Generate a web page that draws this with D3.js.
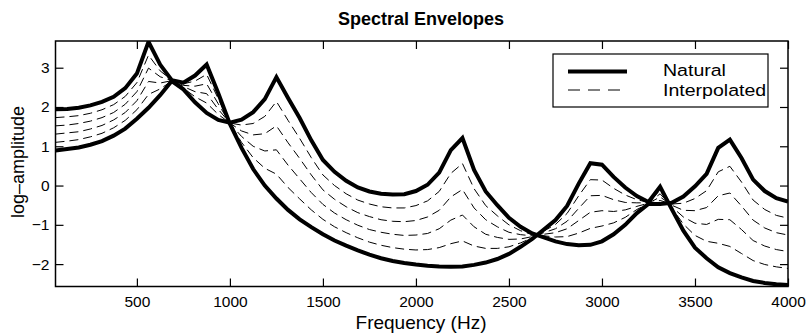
<!DOCTYPE html>
<html>
<head>
<meta charset="utf-8">
<script src="https://cdn.jsdelivr.net/npm/d3@7"></script>
<style>
  body { margin: 0; background: #fff; }
  text { font-family: "Liberation Sans", Arial, Helvetica, sans-serif; fill: #000; }
</style>
</head>
<body>
<div id="chart"></div>
<script>
// frequency grid (Hz)
const freqs = [
    62.5, 125, 187.5, 250, 312.5, 375, 437.5, 500, 562.5, 625, 687.5, 750, 812.5, 875, 937.5, 1000,
    1062.5, 1125, 1187.5, 1250, 1312.5, 1375, 1437.5, 1500, 1562.5, 1625, 1687.5, 1750, 1812.5, 1875, 1937.5, 2000,
    2062.5, 2125, 2187.5, 2250, 2312.5, 2375, 2437.5, 2500, 2562.5, 2625, 2687.5, 2750, 2812.5, 2875, 2937.5, 3000,
    3062.5, 3125, 3187.5, 3250, 3312.5, 3375, 3437.5, 3500, 3562.5, 3625, 3687.5, 3750, 3812.5, 3875, 3937.5, 4000
]

// natural envelopes
const naturalA = [
    1.94, 1.95, 1.98, 2.04, 2.13, 2.26, 2.48, 2.85, 3.66, 3.08, 2.68, 2.62, 2.80, 3.08, 2.35, 1.57,
    0.96, 0.42, 0.00, -0.33, -0.62, -0.86, -1.06, -1.24, -1.40, -1.53, -1.65, -1.76, -1.85, -1.92, -1.97, -2.01,
    -2.04, -2.06, -2.07, -2.06, -2.02, -1.96, -1.87, -1.74, -1.56, -1.36, -1.12, -0.88, -0.52, 0.05, 0.57, 0.53,
    0.22, -0.05, -0.27, -0.42, -0.03, -0.60, -1.15, -1.58, -1.85, -2.08, -2.23, -2.34, -2.43, -2.48, -2.51, -2.53
]
const naturalB = [
    0.89, 0.93, 0.97, 1.04, 1.13, 1.27, 1.45, 1.70, 1.98, 2.30, 2.66, 2.45, 2.12, 1.85, 1.67, 1.60,
    1.68, 1.87, 2.20, 2.76, 2.23, 1.72, 1.15, 0.65, 0.35, 0.12, -0.05, -0.15, -0.21, -0.23, -0.22, -0.14,
    0.02, 0.33, 0.90, 1.21, 0.40, -0.15, -0.50, -0.82, -1.05, -1.22, -1.32, -1.42, -1.49, -1.52, -1.51, -1.42,
    -1.24, -1.00, -0.70, -0.47, -0.47, -0.44, -0.28, -0.02, 0.30, 0.96, 1.17, 0.70, 0.15, -0.14, -0.32, -0.41
]

// interpolated envelopes (dashed)
const interp1 = [
    1.73, 1.75, 1.78, 1.84, 1.93, 2.06, 2.27, 2.62, 3.32, 2.92, 2.68, 2.59, 2.66, 2.83, 2.21, 1.58,
    1.10, 0.71, 0.44, 0.29, -0.05, -0.34, -0.62, -0.86, -1.05, -1.20, -1.33, -1.44, -1.52, -1.58, -1.62, -1.64,
    -1.63, -1.58, -1.48, -1.41, -1.54, -1.60, -1.60, -1.56, -1.46, -1.33, -1.16, -0.99, -0.71, -0.26, 0.15, 0.14,
    -0.07, -0.24, -0.36, -0.43, -0.12, -0.57, -0.98, -1.27, -1.42, -1.47, -1.55, -1.73, -1.91, -2.01, -2.07, -2.11
]
const interp2 = [
    1.52, 1.54, 1.58, 1.64, 1.73, 1.86, 2.07, 2.39, 2.99, 2.77, 2.67, 2.55, 2.53, 2.59, 2.08, 1.58,
    1.25, 1.00, 0.88, 0.91, 0.52, 0.17, -0.18, -0.48, -0.70, -0.87, -1.01, -1.12, -1.19, -1.24, -1.27, -1.26,
    -1.22, -1.10, -0.88, -0.75, -1.05, -1.24, -1.32, -1.37, -1.36, -1.30, -1.20, -1.10, -0.91, -0.58, -0.26, -0.25,
    -0.36, -0.43, -0.44, -0.44, -0.21, -0.54, -0.80, -0.96, -0.99, -0.86, -0.87, -1.12, -1.40, -1.54, -1.63, -1.68
]
const interp3 = [
    1.31, 1.34, 1.37, 1.44, 1.53, 1.67, 1.86, 2.16, 2.65, 2.61, 2.67, 2.52, 2.39, 2.34, 1.94, 1.59,
    1.39, 1.29, 1.32, 1.52, 1.09, 0.69, 0.27, -0.11, -0.35, -0.54, -0.69, -0.79, -0.87, -0.91, -0.92, -0.89,
    -0.80, -0.63, -0.29, -0.10, -0.57, -0.87, -1.05, -1.19, -1.25, -1.28, -1.24, -1.20, -1.10, -0.89, -0.68, -0.64,
    -0.66, -0.62, -0.53, -0.45, -0.29, -0.50, -0.63, -0.64, -0.56, -0.26, -0.19, -0.52, -0.88, -1.08, -1.20, -1.26
]
const interp4 = [
    1.10, 1.13, 1.17, 1.24, 1.33, 1.47, 1.66, 1.93, 2.32, 2.46, 2.66, 2.48, 2.26, 2.10, 1.81, 1.59,
    1.54, 1.58, 1.76, 2.14, 1.66, 1.20, 0.71, 0.27, 0.00, -0.21, -0.37, -0.47, -0.54, -0.57, -0.57, -0.51,
    -0.39, -0.15, 0.31, 0.56, -0.08, -0.51, -0.77, -1.00, -1.15, -1.25, -1.28, -1.31, -1.30, -1.21, -1.09, -1.03,
    -0.95, -0.81, -0.61, -0.46, -0.38, -0.47, -0.45, -0.33, -0.13, 0.35, 0.49, 0.09, -0.37, -0.61, -0.76, -0.83
]

const xTicks = [500, 1000, 1500, 2000, 2500, 3000, 3500, 4000]
const yTicks = [-2, -1, 0, 1, 2, 3]

const W = 807, H = 334
const margin = { left: 55.5, top: 41, right: 19, bottom: 47.5 }
const width = W - margin.left - margin.right
const height = H - margin.top - margin.bottom

const translate = (x, y) => 'translate(' + x + ', ' + y + ')'

const svgRoot = d3.select('#chart')
    .append('svg')
    .attr('width', W)
    .attr('height', H)
const svg = svgRoot.append('g')
    .attr('transform', translate(margin.left, margin.top))

const x = d3.scaleLinear().domain([62.5, 4000]).range([0, width])
const y = d3.scaleLinear().domain([-2.57, 3.68]).range([height, 0])

const line = d3.line()
    .x((d, i) => x(freqs[i]))
    .y(d => y(d))

// clip to the axes box, like the original
svg.append('clipPath').attr('id', 'clip')
    .append('rect').attr('width', width).attr('height', height)

const plot = svg.append('g').attr('clip-path', 'url(#clip)')

;[interp1, interp2, interp3, interp4].forEach(s => {
    plot.append('path')
        .datum(s)
        .attr('d', line)
        .attr('fill', 'none')
        .attr('stroke', '#000')
        .attr('stroke-width', 1)
        .attr('stroke-dasharray', '9,5')
})

;[naturalA, naturalB].forEach(s => {
    plot.append('path')
        .datum(s)
        .attr('d', line)
        .attr('fill', 'none')
        .attr('stroke', '#000')
        .attr('stroke-width', 4)
        .attr('stroke-linejoin', 'miter')
})

// axes, ticks pointing inwards on all four sides
const styleAxis = g => {
    g.select('.domain').remove()
    g.selectAll('line').attr('stroke', '#000').attr('stroke-width', 1.2)
    g.selectAll('text')
        .style('font-family', '"Liberation Sans", Arial, sans-serif')
        .style('font-size', '15.5px')
        .attr('fill', '#000')
}

svg.append('g')
    .attr('transform', translate(0, height))
    .call(d3.axisBottom(x).tickValues(xTicks).tickSize(-8).tickPadding(9)
        .tickFormat(d3.format('d')))
    .call(styleAxis)
svg.append('g')
    .call(d3.axisTop(x).tickValues(xTicks).tickSize(-8).tickFormat(''))
    .call(styleAxis)
svg.append('g')
    .call(d3.axisLeft(y).tickValues(yTicks).tickSize(-8).tickPadding(6)
        .tickFormat(d => d < 0 ? '\u2212' + Math.abs(d) : d))
    .call(styleAxis)
svg.append('g')
    .attr('transform', translate(width, 0))
    .call(d3.axisRight(y).tickValues(yTicks).tickSize(-8).tickFormat(''))
    .call(styleAxis)

svg.append('rect')
    .attr('width', width)
    .attr('height', height)
    .attr('fill', 'none')
    .attr('stroke', '#000')
    .attr('stroke-width', 1.5)

// labels
svgRoot.append('text')
    .attr('x', 421)
    .attr('y', 25)
    .attr('text-anchor', 'middle')
    .style('font-size', '18px')
    .style('font-weight', 'bold')
    .text('Spectral Envelopes')

svgRoot.append('text')
    .attr('x', 421)
    .attr('y', 329)
    .attr('text-anchor', 'middle')
    .style('font-size', '19px')
    .text('Frequency (Hz)')

svgRoot.append('text')
    .attr('transform', translate(24, 162) + ' rotate(-90)')
    .attr('text-anchor', 'middle')
    .style('font-size', '18px')
    .text('log\u2013amplitude')

// legend
const legend = svgRoot.append('g').attr('transform', translate(553, 54))
legend.append('rect')
    .attr('width', 215)
    .attr('height', 53)
    .attr('fill', '#fff')
    .attr('stroke', '#000')
    .attr('stroke-width', 1.2)
legend.append('line')
    .attr('x1', 15).attr('x2', 74)
    .attr('y1', 17.5).attr('y2', 17.5)
    .attr('stroke', '#000')
    .attr('stroke-width', 4)
legend.append('line')
    .attr('x1', 15).attr('x2', 74)
    .attr('y1', 36).attr('y2', 36)
    .attr('stroke', '#000')
    .attr('stroke-width', 1)
    .attr('stroke-dasharray', '12,8')
// the legend lettering is set wide in the original
legend.append('text')
    .attr('transform', translate(110, 22) + ' scale(1.15, 1)')
    .style('font-size', '17px')
    .text('Natural')
legend.append('text')
    .attr('transform', translate(110, 41.5) + ' scale(1.15, 1)')
    .style('font-size', '17px')
    .text('Interpolated')
</script>
</body>
</html>
